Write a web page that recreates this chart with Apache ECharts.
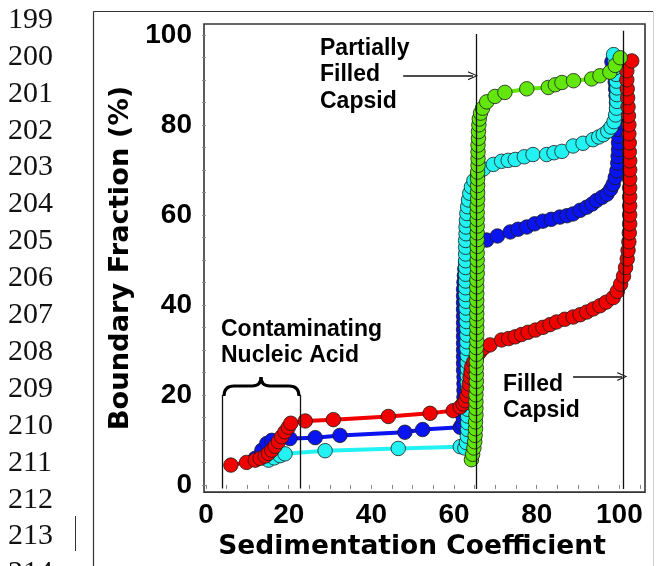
<!DOCTYPE html>
<html>
<head>
<meta charset="utf-8">
<title>Boundary Fraction</title>
<script src="https://cdn.jsdelivr.net/npm/echarts/dist/echarts.min.js"></script>
<style>
  html, body { margin: 0; padding: 0; background: #fff; }
  #main { width: 657px; height: 566px; }
</style>
</head>
<body>
<div id="main"></div>
<script>
// page line numbers on the left margin
var lineNumbers = ['199', '200', '201', '202', '203', '204', '205', '206', '207', '208', '209', '210', '211', '212', '213', '214']

var xLabels = [0, 20, 40, 60, 80, 100]
var yLabels = [0, 20, 40, 60, 80, 100]
var xTicks = [0, 5, 10, 15, 20, 25, 30, 35, 40, 45, 50, 55, 60, 65, 70, 75, 80, 85, 90, 95, 100, 105]
var yTicks = [0, 5, 10, 15, 20, 25, 30, 35, 40, 45, 50, 55, 60, 65, 70, 75, 80, 85, 90, 95, 100]

// [sedimentation coefficient, boundary fraction]
var blueData = [
  [11.9, 5.9], [13.5, 7.7], [14.7, 9.2], [15.9, 9.9], [20.3, 10.3], [26.4, 10.5], [32.4, 11], [48.1, 11.7], [52.4, 12.3], [61.5, 12.8],
  [62, 13.5], [62.2, 15], [62.3, 16.5], [62.3, 18], [62.4, 19.5], [62.4, 21], [62.4, 22.5], [62.4, 24], [62.3, 25.5], [62.3, 27],
  [62.3, 28.5], [62.3, 30], [62.3, 31.5], [62.3, 33], [62.3, 34.5], [62.3, 36], [62.3, 37.5], [62.3, 39], [62.3, 40.5], [62.3, 42],
  [62.3, 43.5], [62.4, 45], [62.5, 46.5], [62.6, 48], [62.8, 49.5], [63.2, 51], [64, 52.3], [65.5, 53.2], [67.9, 54.4],
  [70.5, 55.3], [73.6, 56.2], [75.5, 56.8], [77.6, 57.3], [79.5, 58], [81.5, 58.6], [83.5, 59], [85.6, 59.5], [87.3, 59.8], [88.8, 60.2],
  [90.5, 61], [92.1, 61.7], [93.4, 62.4], [94.5, 63.2], [95.8, 63.9], [97, 64.6], [97.9, 65.7], [98.5, 66.8], [99, 68.3], [99.4, 69.8],
  [99.6, 71.5], [99.7, 73], [99.8, 74.5], [99.8, 76], [99.8, 77.5], [99.7, 79], [99.6, 80.5], [99.5, 82], [99.4, 83.5], [99.3, 85],
  [99.2, 86.5], [99.1, 88], [99, 89.5], [98.8, 91], [98.5, 92.5], [98.2, 94]
]
var cyanData = [
  [15.1, 5.5], [16.5, 6], [17.9, 6.5], [19.1, 6.9], [28.8, 7.6], [46.5, 8.1], [61.5, 8.5], [62.6, 8.2], [63, 9.4], [63.2, 10.8],
  [63.3, 12.3], [63.3, 13.8], [63.3, 15.3], [63.3, 16.8], [63.3, 18.3], [63.3, 19.8], [63.3, 21.3], [63.2, 22.8], [63.2, 24.3], [63.2, 25.8],
  [63.2, 27.3], [63.2, 28.8], [63.1, 30.3], [63.1, 31.8], [63.1, 33.3], [63.1, 34.8], [63, 36.3], [63, 37.8], [62.9, 39.3], [62.9, 40.8],
  [62.8, 42.3], [62.8, 43.8], [62.8, 45.3], [62.8, 46.8], [62.8, 48.3], [62.8, 49.8], [62.8, 51.3], [62.8, 52.8], [62.8, 54.3], [62.9, 55.8],
  [62.9, 57.3], [63, 58.8], [63.1, 60.3], [63.3, 61.8], [63.5, 63.3], [63.8, 64.8], [64.2, 66.2], [64.8, 67.6], [65.7, 68.8], [67.1, 70.2],
  [69.5, 71.2], [71.5, 71.9], [73.1, 72.1], [74.8, 72.3], [77, 72.9], [79.1, 73.4], [82.4, 73.4], [84.2, 73.8], [86.1, 74.1], [88.8, 75.3],
  [91.2, 75.9], [93.6, 76.7], [95, 77.3], [96.1, 77.8], [97.2, 78.6], [98, 79.5], [98.7, 80.7], [99.1, 82.2], [99.3, 83.7], [99.4, 85.2],
  [99.4, 86.7], [99.4, 88.2], [99.3, 89.7], [99.2, 91.2], [99.1, 92.7], [98.9, 94.2], [98.6, 95.6]
]
var redData = [
  [6, 4.4], [9.8, 5], [11.9, 5.5], [13.1, 5.9], [14.3, 6.4], [15.1, 7], [15.9, 7.7], [16.7, 8.6], [17.5, 9.6], [18.3, 10.7],
  [19.1, 11.8], [19.9, 12.8], [20.5, 13.7], [24, 14.2], [30.8, 14.5], [44.1, 15.2], [54.2, 15.9], [59.8, 16.5],
  [61.5, 17.3], [62.2, 18], [62.7, 18.7], [63.1, 19.8], [63.5, 20.9], [63.7, 22.4], [63.9, 23.9], [64.1, 25.1], [64.3, 26.3], [64.8, 27.4],
  [65.5, 28.5], [66.2, 29.5], [67.1, 30.4], [68.7, 31.1],
  [71.5, 32.2], [73.2, 32.5], [74.8, 32.9], [76.3, 33.4], [77.9, 33.9], [79.7, 34.4], [81.5, 35], [83.2, 35.6], [84.8, 36.2], [86.8, 36.8],
  [88.8, 37.3], [90.5, 37.8], [92.1, 38.4], [93.7, 39.1], [95.3, 39.8], [96.8, 40.6], [98.5, 41.6], [99.5, 43], [100.3, 44.6], [101, 46.4],
  [101.5, 48.3], [101.9, 50.2], [102.1, 52.1], [102.3, 54], [102.4, 56], [102.5, 58], [102.5, 60], [102.5, 62], [102.5, 64], [102.5, 66],
  [102.5, 68], [102.5, 70], [102.5, 72], [102.4, 74], [102.4, 76], [102.3, 78], [102.3, 80], [102.2, 82], [102.1, 84], [102, 86],
  [101.9, 88], [101.8, 90], [101.8, 92], [103, 94.2]
]
var greenData = [
  [64.2, 5.6], [64.5, 6.8], [64.8, 8.2], [65, 9.6], [65.1, 11], [65.2, 12.5], [65.2, 14], [65.3, 15.5], [65.3, 17], [65.3, 18.5],
  [65.3, 20], [65.4, 21.5], [65.4, 23], [65.4, 24.5], [65.4, 26], [65.4, 27.5], [65.4, 29], [65.4, 30.5], [65.5, 32], [65.5, 33.5],
  [65.5, 35], [65.5, 36.5], [65.5, 38], [65.5, 39.5], [65.5, 41], [65.5, 42.5], [65.5, 44], [65.5, 45.5], [65.6, 47], [65.6, 48.5],
  [65.6, 50], [65.6, 51.5], [65.6, 53], [65.6, 54.5], [65.6, 56], [65.6, 57.5], [65.6, 59], [65.6, 60.5], [65.6, 62], [65.7, 63.5],
  [65.7, 65], [65.7, 66.5], [65.7, 68], [65.7, 69.5], [65.8, 71], [65.8, 72.5], [65.8, 74], [65.8, 75.5], [65.9, 77], [65.9, 78.5],
  [66, 80], [66.1, 81.3], [66.4, 82.6], [66.9, 83.7], [67.9, 85.1], [69.9, 86.3], [72.3, 87.2], [77.6, 88], [82.8, 88.3], [84.5, 88.9],
  [86.1, 89.4], [88.9, 89.8], [93.3, 90.2], [95.3, 90.9], [97.7, 91.7], [99, 93.2], [100.2, 94.9]
]

// annotation lines in data units: [x, yFrom, yTo]
var markerLines = [
  [4, -0.8, 20],
  [22.7, -0.8, 20],
  [65.3, -0.9, 100.2],
  [101, -0.9, 100.9]
]
// arrows: [xFrom, xTo, y]
var arrows = [
  [47.7, 64.6, 90.9],
  [88.8, 100.7, 24.1]
]

var TITLE = 'DejaVu Sans'
var SANS = 'Liberation Sans'

function dotSeries (name, data, color) {
  return {
    name: name,
    type: 'line',
    data: data,
    symbol: 'circle',
    symbolSize: 14.5,
    showSymbol: true,
    showAllSymbol: true,
    lineStyle: { color: color, width: 4 },
    itemStyle: { color: color, borderColor: '#1a1a1a', borderWidth: 0.8 },
    emphasis: { disabled: true },
    silent: true
  }
}

var chart = echarts.init(document.getElementById('main'), null, { renderer: 'canvas' })

// left margin text + outer box + brace, all in pixels
var graphics = []
lineNumbers.forEach(function (t, i) {
  graphics.push({
    type: 'text',
    x: 8,
    y: 20 + i * 36.9,
    style: { text: t, fontFamily: 'Liberation Serif', fontSize: 30, fill: '#111', verticalAlign: 'middle' }
  })
})
var brace = [
  [224, 396, 224, 386, 234, 386],
  [234, 386, 243, 386, 252, 386],
  [252, 386, 261, 386, 261, 377],
  [261, 377, 261, 386, 270, 386],
  [270, 386, 280, 386, 289, 386],
  [289, 386, 299, 386, 299, 396]
]
brace.forEach(function (b) {
  graphics.push({
    type: 'bezierCurve',
    shape: { x1: b[0], y1: b[1], cpx1: b[2], cpy1: b[3], x2: b[4], y2: b[5] },
    style: { stroke: '#000', lineWidth: 3, fill: null }
  })
})
graphics.push(
  { type: 'line', shape: { x1: 93.5, y1: 11.5, x2: 653, y2: 11.5 }, style: { stroke: '#333', lineWidth: 1.2 } },
  { type: 'line', shape: { x1: 93.5, y1: 11.5, x2: 93.5, y2: 566 }, style: { stroke: '#333', lineWidth: 1.2 } },
  { type: 'line', shape: { x1: 653.5, y1: 11.5, x2: 653.5, y2: 566 }, style: { stroke: '#ccc', lineWidth: 1 } },
  { type: 'line', shape: { x1: 75.5, y1: 516, x2: 75.5, y2: 551 }, style: { stroke: '#333', lineWidth: 1 } },
  {
    type: 'text', x: 320, y: 35,
    style: { text: 'Partially\nFilled\nCapsid', fontFamily: SANS, fontWeight: 'bold', fontSize: 23, lineHeight: 26.5, fill: '#000' }
  },
  {
    type: 'text', x: 221, y: 316,
    style: { text: 'Contaminating\nNucleic Acid', fontFamily: SANS, fontWeight: 'bold', fontSize: 23, lineHeight: 26.5, fill: '#000' }
  },
  {
    type: 'text', x: 503, y: 372,
    style: { text: 'Filled\nCapsid', fontFamily: SANS, fontWeight: 'bold', fontSize: 23, lineHeight: 26, fill: '#000' }
  }
)

var lineMarks = markerLines.map(function (m) {
  return [{ coord: [m[0], m[1]] }, { coord: [m[0], m[2]] }]
})
var arrowMarks = arrows.map(function (a) {
  return [{ coord: [a[0], a[2]] }, { coord: [a[1], a[2]] }]
})

chart.setOption({
  animation: false,
  backgroundColor: '#fff',
  grid: {
    left: 204, right: 12, top: 24, bottom: 66.5,
    show: true, borderColor: '#333', borderWidth: 1.6, backgroundColor: 'transparent'
  },
  xAxis: {
    type: 'value',
    min: -0.5,
    max: 106.2,
    name: 'Sedimentation Coefficient',
    nameLocation: 'middle',
    nameGap: 36,
    nameTextStyle: { fontFamily: TITLE, fontWeight: 'bold', fontSize: 26.5, color: '#000', padding: [0, 25, 0, 0] },
    axisLine: { show: false },
    axisTick: { show: true, length: 4, customValues: xTicks, lineStyle: { color: '#888' } },
    axisLabel: { customValues: xLabels, margin: 9, fontFamily: SANS, fontWeight: 'bold', fontSize: 28, color: '#000' },
    splitLine: { show: false }
  },
  yAxis: {
    type: 'value',
    min: -1.6,
    max: 102.4,
    name: 'Boundary Fraction (%)',
    nameLocation: 'middle',
    nameRotate: 90,
    nameGap: 56,
    nameTextStyle: { fontFamily: TITLE, fontWeight: 'bold', fontSize: 27.3, color: '#000' },
    axisLine: { show: false },
    axisTick: { show: true, length: 4, customValues: yTicks, lineStyle: { color: '#888' } },
    axisLabel: { customValues: yLabels, margin: 12, fontFamily: SANS, fontWeight: 'bold', fontSize: 28, color: '#000' },
    splitLine: { show: false }
  },
  graphic: graphics,
  series: [
    dotSeries('blue', blueData, '#0a14f0'),
    dotSeries('cyan', cyanData, '#22f2f2'),
    dotSeries('red', redData, '#f20000'),
    dotSeries('green', greenData, '#62e60c'),
    {
      // annotation lines, drawn over the points
      name: 'marks',
      type: 'line',
      data: [],
      silent: true,
      markLine: {
        silent: true,
        symbol: ['none', 'none'],
        label: { show: false },
        lineStyle: { color: '#111', width: 1.3, type: 'solid' },
        emphasis: { disabled: true },
        data: lineMarks
      }
    },
    {
      name: 'arrows',
      type: 'line',
      data: [],
      silent: true,
      markLine: {
        silent: true,
        symbol: ['none', 'path://M0,10 L5,0 L10,10 L8.6,10 L5,2.2 L1.4,10 Z'],
        symbolSize: [9, 10],
        label: { show: false },
        lineStyle: { color: '#111', width: 1.6, type: 'solid' },
        emphasis: { disabled: true },
        data: arrowMarks
      }
    }
  ]
})
</script>
</body>
</html>
